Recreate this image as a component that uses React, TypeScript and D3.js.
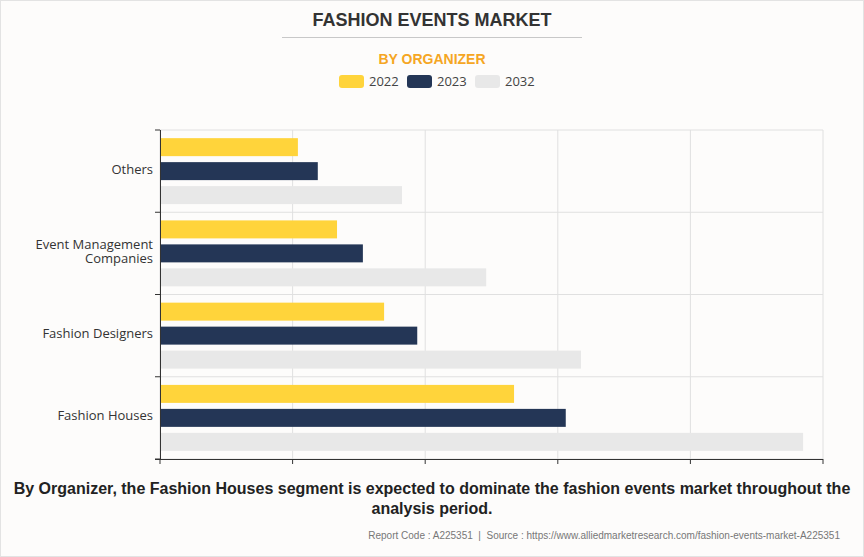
import React from "react";
import * as d3 from "d3";

const categories = ["Others", "Event Management Companies", "Fashion Designers", "Fashion Houses"];
const categoryLines = [["Others"], ["Event Management", "Companies"], ["Fashion Designers"], ["Fashion Houses"]];
const seriesNames = ["2022", "2023", "2032"];
const values2022 = [1.04, 1.335, 1.69, 2.67];
const values2023 = [1.19, 1.53, 1.94, 3.06];
const values2032 = [1.825, 2.46, 3.175, 4.85];
const xTicks = [0, 1, 2, 3, 4, 5];
const colors = ["#ffd43b", "#243656", "#e8e8e8"];

export default function App() {
  const W = 864, H = 557;
  const left = 160, right = 823, top = 130, bottom = 459;
  const x = d3.scaleLinear().domain([0, 5]).range([left, right]);
  const y0 = d3.scaleBand<string>().domain(categories).range([top, bottom]);
  const y1 = d3.scaleBand<string>().domain(seriesNames).range([0, y0.bandwidth()]).paddingInner(0.25).paddingOuter(0.34);
  const series = [values2022, values2023, values2032];
  const bandEdges = categories.map((c) => y0(c)!).concat([bottom]);
  const font = "'Open Sans', 'DejaVu Sans', sans-serif";
  const arial = "'Liberation Sans', Arial, sans-serif";
  const legendX = [339, 407, 475];
  return (
    <svg width={W} height={H} style={{ position: "absolute", left: 0, top: 0 }}>
      <rect x={0.5} y={0.5} width={W - 1} height={H - 1} fill="#fdfcfb" stroke="#e3e3e3" />
      <text x={432} y={26} textAnchor="middle" fontFamily={arial} fontWeight="bold" fontSize={18} fill="#333">FASHION EVENTS MARKET</text>
      <line x1={282} x2={582} y1={37.5} y2={37.5} stroke="#c8c8c8" />
      <text x={432} y={64} textAnchor="middle" fontFamily={arial} fontWeight="bold" fontSize={14} fill="#f5a623">BY ORGANIZER</text>
      {seriesNames.map((s, i) => (
        <g key={s}>
          <rect x={legendX[i]} y={75} width={25} height={13} rx={3} fill={colors[i]} />
          <text x={legendX[i] + 30} y={86} fontFamily={font} fontSize={13} fill="#444">{s}</text>
        </g>
      ))}
      {xTicks.map((t) => (
        <line key={t} x1={x(t)} x2={x(t)} y1={top} y2={bottom} stroke="#e0e0e0" />
      ))}
      {bandEdges.map((b, i) => (
        <line key={i} x1={left} x2={right} y1={b} y2={b} stroke="#e0e0e0" />
      ))}
      {categories.map((c, ci) => (
        <g key={c} transform={`translate(0,${y0(c)})`}>
          {seriesNames.map((s, si) => (
            <rect key={s} x={x(0)} y={y1(s)} width={x(series[si][ci]) - x(0)} height={y1.bandwidth()} fill={colors[si]} />
          ))}
        </g>
      ))}
      <line x1={left + 0.5} x2={left + 0.5} y1={top} y2={bottom} stroke="#333" />
      {bandEdges.map((b, i) => (
        <line key={i} x1={left - 5} x2={left} y1={b} y2={b} stroke="#333" />
      ))}
      <line x1={left - 5} x2={right} y1={bottom + 0.5} y2={bottom + 0.5} stroke="#333" />
      {xTicks.map((t) => (
        <line key={t} x1={x(t)} x2={x(t)} y1={bottom} y2={bottom + 5} stroke="#333" />
      ))}
      {categories.map((c, ci) => {
        const lines = categoryLines[ci];
        const cy = y0(c)! + y0.bandwidth() / 2;
        return (
          <text key={c} textAnchor="end" fontFamily={font} fontSize={13} fill="#333">
            {lines.map((l, li) => (
              <tspan key={li} x={153} y={cy + 2.5 + (li - (lines.length - 1) / 2) * 13.5}>{l}</tspan>
            ))}
          </text>
        );
      })}
      <text textAnchor="middle" fontFamily={arial} fontWeight="bold" fontSize={16} fill="#222">
        <tspan x={432} y={494}>By Organizer, the Fashion Houses segment is expected to dominate the fashion events market throughout the</tspan>
        <tspan x={432} y={514}>analysis period.</tspan>
      </text>
      <text x={840} y={539} textAnchor="end" fontFamily={arial} fontSize={10} fill="#777" style={{ whiteSpace: "pre" }}>Report Code : A225351  |  Source : https://www.alliedmarketresearch.com/fashion-events-market-A225351</text>
    </svg>
  );
}
